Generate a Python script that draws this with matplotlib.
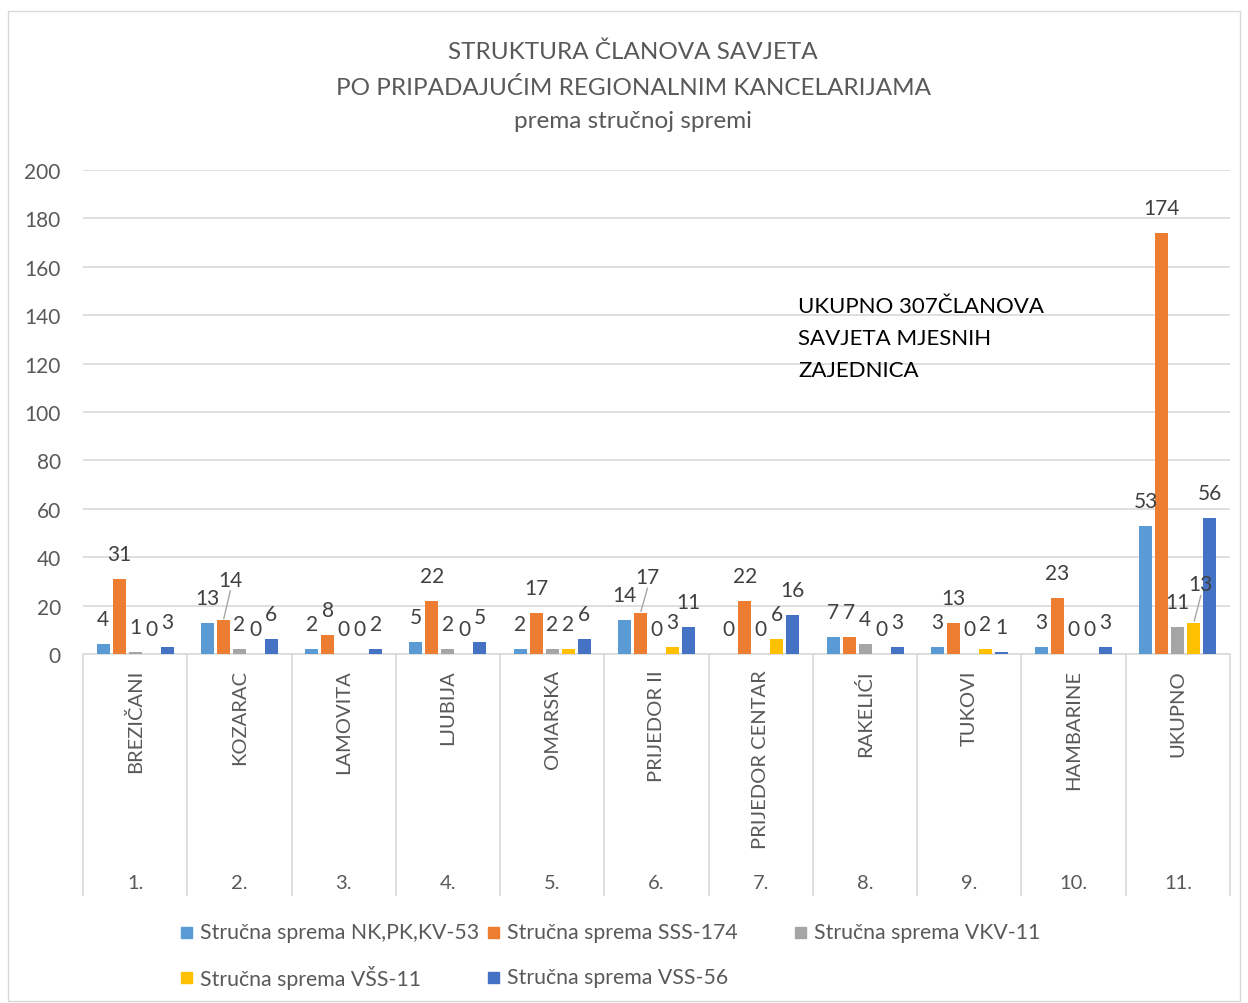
import numpy as np
import matplotlib
matplotlib.use("Agg")
import matplotlib.pyplot as plt
from matplotlib.patches import Rectangle
from matplotlib.transforms import blended_transform_factory

plt.rcParams['font.family'] = ['Lato', 'DejaVu Sans']

# data
places = ["BREZIČANI", "KOZARAC", "LAMOVITA", "LJUBIJA", "OMARSKA", "PRIJEDOR II",
          "PRIJEDOR CENTAR", "RAKELIĆI", "TUKOVI", "HAMBARINE", "UKUPNO"]
numbers = ["1.", "2.", "3.", "4.", "5.", "6.", "7.", "8.", "9.", "10.", "11."]
series_names = ["Stručna sprema NK,PK,KV-53", "Stručna sprema SSS-174",
                "Stručna sprema VKV-11", "Stručna sprema VŠS-11", "Stručna sprema VSS-56"]
nk = [4, 13, 2, 5, 2, 14, 0, 7, 3, 3, 53]
sss = [31, 14, 8, 22, 17, 17, 22, 7, 13, 23, 174]
vkv = [1, 2, 0, 2, 2, 0, 0, 4, 0, 0, 11]
vss_s = [0, 0, 0, 0, 2, 3, 6, 0, 2, 0, 13]
vss = [3, 6, 2, 5, 6, 11, 16, 3, 1, 3, 56]
colors = ["#5b9bd5", "#ed7d31", "#a5a5a5", "#ffc000", "#4472c4"]

series = [nk, sss, vkv, vss_s, vss]
grey = "#595959"
W, H = 1248, 1004

fig = plt.figure(figsize=(12.48, 10.04), dpi=100)
ax = fig.add_axes([83 / W, 1 - 655 / H, 1147 / W, 484 / H])
ax.set_xlim(0, len(places))
ax.set_ylim(0, 200)

x = np.arange(len(places)) + 0.5
step = 16 / 104.3
width = 13 / 104.3
for k, vals in enumerate(series):
    ax.bar(x + (k - 2) * step, vals, width=width, color=colors[k],
           label=series_names[k], zorder=3)

# gridlines and axes
ax.set_yticks(np.arange(0, 201, 20))
ax.yaxis.grid(True, color="#d9d9d9", linewidth=1.2, zorder=0)
ax.tick_params(axis='y', length=0, labelsize=15, labelcolor=grey, pad=16)
ax.set_xticks([])
for s in ["top", "right", "left"]:
    ax.spines[s].set_visible(False)
ax.spines["bottom"].set_color("#d9d9d9")
ax.spines["bottom"].set_linewidth(1.2)

# two-level category axis
trans = blended_transform_factory(ax.transData, ax.transAxes)
ax.vlines(np.arange(len(places) + 1), -0.5, 0, transform=trans, color="#d9d9d9",
          linewidth=1.2, clip_on=False)
for i in range(len(places)):
    ax.text(x[i], -0.031, places[i], rotation=90, ha="center", va="top",
            transform=trans, fontsize=14.5, color=grey)
    ax.text(x[i], -0.472, numbers[i], ha="center", va="center",
            transform=trans, fontsize=14.5, color=grey)

# data labels with simple overlap avoidance
for i in range(len(places)):
    placed = []
    for k, vals in enumerate(series):
        v = vals[i]
        bx = x[i] + (k - 2) * step
        px, py = ax.transData.transform((bx, v))
        w = 11 * len(str(v))
        cx, cy = px, py + 25
        moved = False
        for (ox, oy, ow) in placed:
            if abs(cx - ox) < (w + ow) / 2 - 2 and abs(cy - oy) < 18:
                cy = oy + 18
                cx = cx + 7
                moved = True
        placed.append((cx, cy, w))
        ax.annotate(str(v), xy=(bx, v), xytext=(cx - px, cy - py),
                    textcoords="offset pixels", ha="center", va="center",
                    fontsize=15, color="#404040", zorder=5)
        if moved:
            ax.annotate("", xy=(bx, v), xytext=(cx - px, cy - py - 11),
                        textcoords="offset pixels",
                        arrowprops=dict(arrowstyle="-", color="#a6a6a6", lw=1,
                                        shrinkA=0, shrinkB=1))

# title
fig.text(633 / W, 1 - 87 / H,
         "STRUKTURA ČLANOVA SAVJETA\nPO PRIPADAJUĆIM REGIONALNIM KANCELARIJAMA\nprema stručnoj spremi",
         ha="center", va="center", fontsize=17.5, color=grey, linespacing=1.75)

# annotation
fig.text(798 / W, 1 - 339 / H,
         "UKUPNO 307ČLANOVA\nSAVJETA MJESNIH\nZAJEDNICA",
         ha="left", va="center", fontsize=16, color="black", linespacing=1.75)

# legend, laid out in equal columns like the original
for idx, name in enumerate(series_names):
    col, row = idx % 3, idx // 3
    lx = 181 + col * 307
    ly = 933 + row * 45
    fig.patches.append(Rectangle((lx / W, 1 - (ly + 6) / H), 11 / W, 11 / H,
                                 transform=fig.transFigure, color=colors[idx]))
    fig.text((lx + 19) / W, 1 - ly / H, name, ha="left", va="center",
             fontsize=15.3, color=grey)

# chart border
fig.patches.append(Rectangle((8 / W, 0.002), 1232 / W, 1 - 14 / H,
                             transform=fig.transFigure, fill=False,
                             edgecolor="#d9d9d9", linewidth=1))

fig.savefig("out.png", dpi=100)
